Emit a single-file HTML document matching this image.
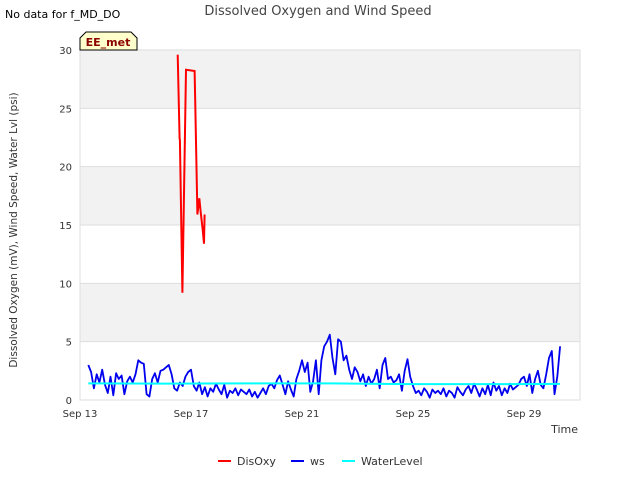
<!DOCTYPE html>
<html><head><meta charset="utf-8"><style>
body{margin:0;background:#fff;font-family:"Liberation Sans","DejaVu Sans",sans-serif}
</style></head><body>
<svg id="chart" width="640" height="480" xmlns="http://www.w3.org/2000/svg" font-family="DejaVu Sans, Liberation Sans, sans-serif">
<rect width="640" height="480" fill="#fff"/>
<g id="bands"></g>
<g id="grid"></g>
<rect x="80" y="50" width="500" height="350" fill="none" stroke="#ddd"/>
<g id="series"></g>
<g id="axes" font-size="10" fill="#333"></g>
<text x="318" y="15" text-anchor="middle" font-size="13" fill="#444">Dissolved Oxygen and Wind Speed</text>
<text x="5" y="18" font-size="11" fill="#000">No data for f_MD_DO</text>
<g>
<path d="M80,50 L80,38 L86,32 L131,32 L137,38 L137,50 Z" fill="#ffffcc" stroke="#000" stroke-width="1"/>
<text x="108" y="46" text-anchor="middle" font-size="11" font-weight="bold" fill="#8b0000">EE_met</text>
</g>
<text transform="translate(17,230) rotate(-90)" text-anchor="middle" font-size="10.5" fill="#333">Dissolved Oxygen (mV), Wind Speed, Water Lvl (psi)</text>
<text x="578" y="433" text-anchor="end" font-size="11" fill="#333">Time</text>
<g id="legend" font-size="11" fill="#333"></g>
</svg>
<script>
const yTicks=[0,5,10,15,20,25,30];
const xTickDays=[0,4,8,12,16];
const xTickLabels=["Sep 13","Sep 17","Sep 21","Sep 25","Sep 29"];
const disoxyDays=[3.52,3.59,3.60,3.69,3.82,4.13,4.15,4.23,4.30,4.35,4.42,4.47,4.49];
const disoxyVals=[29.6,22.4,22.3,9.2,28.3,28.2,25.7,15.9,17.3,16.1,14.6,13.4,15.9];
const wsStart=0.3, wsStep=0.1;
const wsVals=[3.0,2.4,1.0,2.2,1.5,2.6,1.3,
0.6,2.0,0.4,2.3,1.8,2.1,0.5,1.6,2.0,1.5,
2.2,3.4,3.2,3.1,0.5,0.3,1.8,2.3,1.5,2.5,
2.6,2.8,3.0,2.2,1.0,0.8,1.5,1.2,2.0,2.4,
2.6,1.2,0.8,1.5,0.5,1.1,0.3,1.0,0.7,1.4,
0.9,0.5,1.3,0.2,0.8,0.6,1.0,0.4,0.9,0.7,
0.5,0.9,0.3,0.7,0.2,0.6,1.0,0.5,1.2,1.4,
1.0,1.7,2.1,1.3,0.5,1.6,0.9,0.3,1.8,2.5,
3.4,2.4,3.2,0.7,1.6,3.4,0.5,3.4,4.6,5.0,
5.6,3.6,2.2,5.2,5.0,3.4,3.8,2.6,1.8,2.8,
2.4,1.6,2.2,1.2,2.0,1.4,1.8,2.6,1.0,3.0,
3.6,1.8,2.0,1.5,1.7,2.2,0.8,2.5,3.5,2.0,
1.2,0.6,0.8,0.4,1.0,0.7,0.2,0.9,0.6,0.8,
0.5,1.0,0.3,0.8,0.6,0.2,1.1,0.7,0.4,0.9,
1.2,0.6,1.4,0.9,0.3,1.0,0.5,1.3,0.4,1.5,
0.8,1.2,0.4,1.0,0.6,1.4,0.9,1.1,1.3,1.8,
2.0,1.2,2.2,0.6,1.8,2.5,1.3,1.0,2.2,3.6,
4.2,0.5,2.0,4.6];
const wlDays=[0.3,3,6,9,12,15,17.3];
const wlVals=[1.42,1.40,1.42,1.43,1.36,1.36,1.38];
const NS="http://www.w3.org/2000/svg";
const X=d=>80+d*27.75, Y=v=>400-v*350/30;
function mk(tag,attrs,parent){const e=document.createElementNS(NS,tag);for(const k in attrs)e.setAttribute(k,attrs[k]);parent.appendChild(e);return e;}
const bands=document.getElementById('bands'),grid=document.getElementById('grid'),axes=document.getElementById('axes'),series=document.getElementById('series'),legend=document.getElementById('legend');
for(let i=0;i<yTicks.length-1;i++){
  if(i%2===1){const b=mk('rect',{x:80,y:Y(yTicks[i+1]),width:500,height:Y(yTicks[i])-Y(yTicks[i+1]),fill:'#f2f2f2'},bands);
  
  }
}
yTicks.forEach(v=>{
  const l=mk('line',{x1:80,x2:580,y1:Y(v),y2:Y(v),stroke:'#ddd'},grid);
  
  
  const t=mk('text',{x:72,y:Y(v)+4,'text-anchor':'end'},axes);t.textContent=v;
  
  
});
xTickDays.forEach((d,i)=>{
  const t=mk('text',{x:X(d),y:417,'text-anchor':'middle'},axes);t.textContent=xTickLabels[i];
  
  
});
const wsPts=wsVals.map((v,i)=>X(wsStart+i*wsStep).toFixed(1)+','+Y(v).toFixed(1)).join(' ');
const ws=mk('polyline',{points:wsPts,fill:'none',stroke:'#0000ee','stroke-width':1.8,'stroke-linejoin':'round'},series);


const wl=mk('polyline',{points:wlVals.map((v,i)=>X(wlDays[i])+','+Y(v)).join(' '),fill:'none',stroke:'#00ffff','stroke-width':2},series);


const dox=mk('polyline',{points:disoxyVals.map((v,i)=>X(disoxyDays[i]).toFixed(1)+','+Y(v).toFixed(1)).join(' '),fill:'none',stroke:'#ff0000','stroke-width':2},series);


const leg=[["DisOxy","#ff0000",218],["ws","#0000ee",291],["WaterLevel","#00ffff",342]];
leg.forEach(([n,c,x])=>{
  const g=mk('g',{},legend);
  
  
  mk('line',{x1:x,x2:x+13,y1:461,y2:461,stroke:c,'stroke-width':2},g);
  const t=mk('text',{x:x+19,y:465},g);t.textContent=n;
});
</script>
</body></html>
